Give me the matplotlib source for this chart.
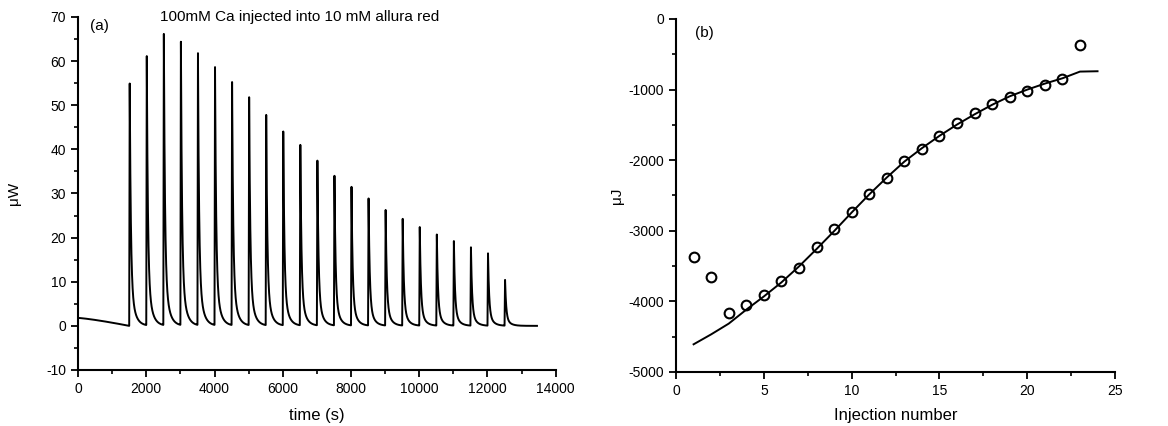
import numpy as np
import matplotlib
matplotlib.use("Agg")
import matplotlib.pyplot as plt
from matplotlib.ticker import MultipleLocator

plt.rcParams['font.family'] = ['Liberation Sans', 'DejaVu Sans']
plt.rcParams['axes.unicode_minus'] = False

# (a) thermogram: injection times (s) and peak heights (uW)
inj_times = [1500, 2000, 2500, 3000, 3500, 4000, 4500, 5000, 5500, 6000, 6500, 7000,
             7500, 8000, 8500, 9000, 9500, 10000, 10500, 11000, 11500, 12000, 12500]
peak_heights = [55.2, 61.1, 66.4, 64.6, 61.7, 58.8, 55.5, 51.7, 47.9, 44.3, 40.9, 37.5,
                34.2, 31.4, 28.9, 26.4, 24.2, 22.4, 20.8, 19.2, 17.8, 16.5, 10.4]
base_start = 1.8   # baseline level at t=0
t_end = 13450

# (b) integrated heats per injection (uJ) and fitted curve
inj_number = list(range(1, 24))
heat = [-3378, -3661, -4170, -4047, -3915, -3717, -3524, -3231, -2977, -2731, -2481, -2255,
        -2014, -1844, -1655, -1480, -1338, -1197, -1098, -1018, -929, -848, -372]
fit_x = list(range(1, 25))
fit_y = [-4608, -4467, -4315, -4117, -3930, -3731, -3505, -3259, -3005, -2741, -2485, -2245,
         -2020, -1830, -1655, -1495, -1350, -1215, -1095, -1000, -915, -840, -745, -740]

# build trace from peak list
t = np.linspace(0, t_end, 27000)
y = np.zeros_like(t)
pre = t < inj_times[0]
y[pre] = base_start * (1 - (t[pre] / inj_times[0]) ** 1.25)
for t0, h in zip(inj_times, peak_heights):
    dt = t - t0
    rise = (dt >= 0) & (dt < 15)
    y[rise] += h * dt[rise] / 15
    dec = dt >= 15
    d = dt[dec] - 15
    y[dec] += h * (0.8 * np.exp(-d / 32) + 0.2 * np.exp(-d / 120))

fig = plt.figure(figsize=(11.68, 4.26), dpi=100)
ax1 = fig.add_axes([0.0668, 0.1315, 0.409, 0.8286])
ax2 = fig.add_axes([0.5788, 0.1268, 0.3759, 0.8286])

ax1.plot(t, y, color='black', lw=1.4)
ax1.set_xlim(0, 14000)
ax1.set_ylim(-10, 70)
ax1.xaxis.set_major_locator(MultipleLocator(2000))
ax1.xaxis.set_minor_locator(MultipleLocator(1000))
ax1.yaxis.set_major_locator(MultipleLocator(10))
ax1.yaxis.set_minor_locator(MultipleLocator(5))
ax1.set_xlabel('time (s)', fontsize=12, labelpad=9)
ax1.set_ylabel('\u03bcW', fontsize=11, labelpad=18)
ax1.text(0.025, 0.975, '(a)', transform=ax1.transAxes, fontsize=11, va='center')
ax1.text(0.172, 1.0, '100mM Ca injected into 10 mM allura red', transform=ax1.transAxes,
         fontsize=11, va='center')

ax2.plot(fit_x, fit_y, color='black', lw=1.4)
ax2.plot(inj_number, heat, 'o', mfc='none', mec='black', mew=1.5, ms=7)
ax2.set_xlim(0, 25)
ax2.set_ylim(-5000, 0)
ax2.xaxis.set_major_locator(MultipleLocator(5))
ax2.xaxis.set_minor_locator(MultipleLocator(2.5))
ax2.yaxis.set_major_locator(MultipleLocator(1000))
ax2.yaxis.set_minor_locator(MultipleLocator(500))
ax2.set_xlabel('Injection number', fontsize=12, labelpad=7)
ax2.set_ylabel('\u03bcJ', fontsize=11, labelpad=3)
ax2.text(0.043, 0.96, '(b)', transform=ax2.transAxes, fontsize=11, va='center')

for ax in (ax1, ax2):
    for s in ('top', 'right'):
        ax.spines[s].set_visible(False)
    for s in ('left', 'bottom'):
        ax.spines[s].set_linewidth(1.5)
    ax.tick_params(which='major', direction='out', length=5, width=1.3, labelsize=10)
    ax.tick_params(which='minor', direction='out', length=3, width=1.2)

fig.savefig('out.png', dpi=100)
